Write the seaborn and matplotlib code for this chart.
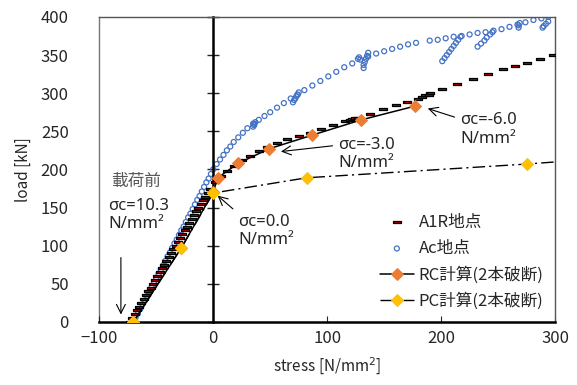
import matplotlib
matplotlib.use("Agg")
import matplotlib.pyplot as plt
import seaborn as sns
import pandas as pd

sns.set_style("white")
plt.rcParams['font.family'] = ['Noto Sans CJK JP', 'DejaVu Sans']

# A1R measurement points (stress N/mm2, load kN)
a1r_stress = [-73, -71, -69, -67, -65, -63, -61, -59, -57, -55, -53, -51, -49, -47, -45,
              -43, -41, -39, -37, -35, -33, -31, -29, -27, -25, -23, -21, -19, -17, -15,
              -13, -11, -9, -7, -5, -3, 2, 7, 12, 18, 25, 32, 40, 47, 56, 65, 75, 85,
              95, 105, 116, 120, 122, 124, 127, 138, 149, 160, 170, 180, 183, 186, 189,
              190, 201, 214, 228, 241, 254, 265, 275, 287, 298]
a1r_load = [0, 5, 10, 15, 20, 25, 30, 35, 40, 45, 50, 55, 60, 65, 70,
            75, 80, 85, 90, 95, 100, 105, 110, 115, 120, 125, 130, 135, 140, 145,
            150, 155, 160, 164, 169, 174, 183, 191, 198, 205, 212, 218, 224, 229, 235,
            240, 244, 248, 253, 258, 263, 265, 266, 267, 268, 273, 279, 284, 289, 293,
            295, 297, 298, 300, 306, 312, 319, 325, 332, 336, 340, 345, 350]

# Ac measurement points
ac_stress = [-70, -68, -66, -64, -62, -60, -58, -56, -54, -52, -50, -48, -46, -44, -42,
             -40, -38, -36, -34, -32, -30, -28, -26, -24, -22, -20, -18, -16, -14, -12,
             -10, -8, -6, -4, -2, 0, 3, 6, 9, 12, 15, 18, 22, 26, 30, 35, 40, 45, 50,
             56, 62, 68, 74, 80, 87, 94, 101, 108, 115, 122, 129, 136, 143, 150, 157,
             164, 171, 178, 190, 197, 204, 211, 218, 225, 232, 239, 246, 253, 260, 267,
             274, 281, 288, 294,
             37, 36, 36, 35,
             75, 74, 73, 72, 71, 70,
             136, 135, 134, 133, 132, 132, 128, 127,
             217, 215, 213, 211, 209, 207, 205, 203, 201,
             245, 243, 240, 238, 235, 232,
             269, 268, 268,
             294, 292, 290, 289]
ac_load = [0, 6, 11, 17, 23, 28, 34, 40, 46, 51, 57, 63, 68, 74, 80,
           86, 91, 97, 103, 108, 114, 120, 125, 131, 137, 142, 148, 154, 160, 165,
           171, 177, 183, 188, 194, 200, 207, 213, 219, 225, 230, 236, 242, 248, 254,
           260, 265, 270, 275, 281, 287, 293, 298, 304, 310, 316, 322, 328, 334, 339,
           344, 348, 352, 355, 358, 361, 364, 366, 369, 370, 372, 374, 375, 377, 379,
           380, 382, 384, 387, 390, 393, 396, 398, 400,
           262, 260, 258, 256,
           301, 298, 296, 293, 291, 288,
           353, 349, 345, 341, 337, 333, 347, 345,
           374, 370, 366, 362, 358, 354, 350, 346, 342,
           380, 377, 373, 369, 365, 361,
           392, 389, 386,
           394, 391, 388, 386]

# RC / PC calculations (2 strands broken)
rc_stress = [-70, -28, 0, 4, 22, 49, 87, 130, 177]
rc_load = [0, 97, 170, 189, 208, 227, 245, 265, 283]
pc_stress = [-70, -28, 0, 82, 275, 320]
pc_load = [0, 97, 169, 189, 207, 212]

dash_marker = [(-1, -0.35), (1, -0.35), (1, 0.35), (-1, 0.35), (-1, -0.35)]

fig, ax = plt.subplots(figsize=(5.77, 3.85), dpi=100)
fig.subplots_adjust(left=0.172, right=0.962, top=0.956, bottom=0.164)

sns.scatterplot(x=ac_stress, y=ac_load, ax=ax, marker='o', s=13, facecolor='none',
                edgecolor='#4472C4', linewidth=0.9, label='Ac地点', zorder=2)
sns.scatterplot(x=a1r_stress, y=a1r_load, ax=ax, marker=dash_marker, s=30,
                facecolor='#C00000', edgecolor='black', linewidth=0.9, label='A1R地点', zorder=3)
sns.lineplot(x=rc_stress, y=rc_load, ax=ax, sort=False, color='black', lw=1.1,
             marker='D', markersize=6, markerfacecolor='#ED7D31', markeredgecolor='#ED7D31',
             label='RC計算(2本破断)', zorder=4)
sns.lineplot(x=pc_stress, y=pc_load, ax=ax, sort=False, color='black', lw=1.0,
             linestyle=(0, (9, 3, 1.5, 3)),
             marker='D', markersize=6, markerfacecolor='#FFC000', markeredgecolor='#FFC000',
             label='PC計算(2本破断)', zorder=5)

ax.set_xlim(-100, 300)
ax.set_ylim(0, 400)
ax.set_xticks([-100, 0, 100, 200, 300])
ax.set_yticks(range(0, 401, 50))

# vertical axis crossing at stress = 0
ax.spines['left'].set_position(('data', 0))
ax.spines['left'].set_color('black')
ax.spines['left'].set_linewidth(1.8)
ax.tick_params(axis='y', direction='inout', length=8, width=1, labelleft=False, left=True)
ax.spines['bottom'].set_color('black')
ax.spines['bottom'].set_linewidth(1.8)
ax.tick_params(axis='x', direction='in', length=4, width=0.8, labelsize=12, pad=6, bottom=True)
for s in ['top', 'right']:
    ax.spines[s].set_visible(True)
    ax.spines[s].set_color('#555555')
    ax.spines[s].set_linewidth(1.0)

sec = ax.secondary_yaxis('left')
sec.set_yticks(range(0, 401, 50))
sec.tick_params(length=0, labelsize=12, pad=22)
sec.spines['left'].set_color('#777777')
sec.spines['left'].set_linewidth(1.0)
sec.set_ylabel('load [kN]', fontsize=11, labelpad=6)

ax.set_xlabel('stress [N/mm$^2$]', fontsize=11, labelpad=6)
ax.set_ylabel('')

# annotations
ann = dict(fontsize=12, family=['Noto Sans', 'DejaVu Sans'])
arrow = dict(arrowstyle='->', color='black', lw=0.8, mutation_scale=16)
ax.text(-90, 184, '載荷前', fontsize=12, color='#595959', va='center')
ax.text(-92, 163, 'σc=10.3\nN/mm²', va='top', linespacing=1.2, **ann)
ax.annotate('', xy=(-81, 6), xytext=(-81, 88), arrowprops=arrow)
ax.annotate('σc=0.0\nN/mm²', xy=(2, 168), xytext=(22, 97), va='bottom',
            linespacing=1.2, arrowprops=dict(arrow, relpos=(0, 1)), **ann)
ax.annotate('σc=-3.0\nN/mm²', xy=(57, 223), xytext=(110, 198), va='bottom',
            linespacing=1.2, arrowprops=dict(arrow, relpos=(0, 0.75)), **ann)
ax.annotate('σc=-6.0\nN/mm²', xy=(186, 281), xytext=(217, 230), va='bottom',
            linespacing=1.2, arrowprops=dict(arrow, relpos=(0, 0.8)), **ann)

handles, labels = ax.get_legend_handles_labels()
order = [labels.index(l) for l in ['A1R地点', 'Ac地点', 'RC計算(2本破断)', 'PC計算(2本破断)']]
ax.legend([handles[i] for i in order], [labels[i] for i in order], loc='lower right',
          bbox_to_anchor=(1.0, 0.0), frameon=False, fontsize=12, handlelength=2.0,
          handletextpad=0.3, labelspacing=0.55, borderaxespad=0.3)

fig.savefig('out.png', dpi=100)
